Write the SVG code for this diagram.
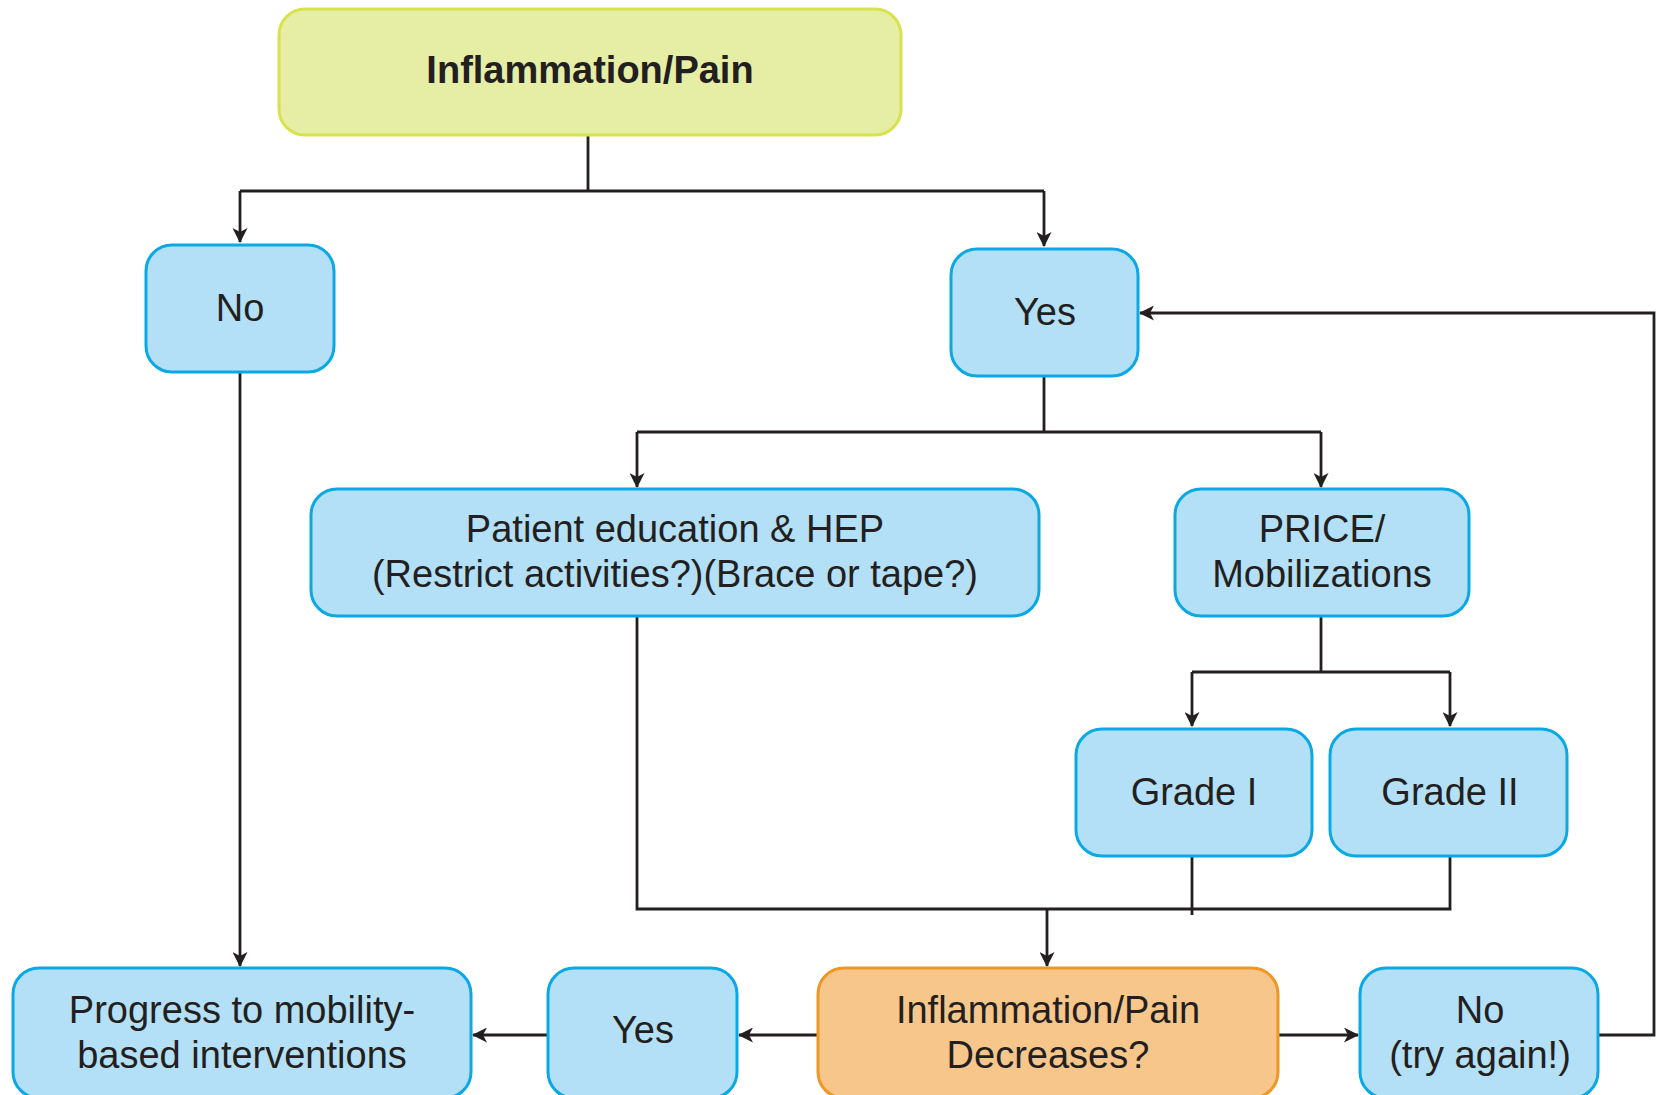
<svg xmlns="http://www.w3.org/2000/svg" width="1657" height="1095" viewBox="0 0 1657 1095">
  <style>
    .box { stroke-width: 3; }
    .blue { fill: #b3e0f6; stroke: #0aa8e4; }
    .yellow { fill: #e6eda4; stroke: #d8e24c; }
    .orange { fill: #f7c68b; stroke: #ef9625; }
    .lbl { font-family: "Liberation Sans", Arial, sans-serif; font-size: 38px; fill: #231f20; text-anchor: middle; }
    .bold { font-weight: bold; font-size: 38px; }
    .wire { fill: none; stroke: #231f20; stroke-width: 2.8; }
  </style>
  <defs>
    <marker id="arr" viewBox="0 0 15 15" refX="14" refY="7.5" markerWidth="15" markerHeight="15" markerUnits="userSpaceOnUse" orient="auto">
      <path d="M0,0 L15,7.5 L0,15 L4,7.5 z" fill="#231f20"/>
    </marker>
  </defs>
  <rect width="1657" height="1095" fill="#ffffff"/>

  <!-- connectors -->
  <g id="connectors">
    <path class="wire" d="M588,135 V191"/>
    <path class="wire" d="M240,191 H1044"/>
    <path class="wire" d="M240,191 V242" marker-end="url(#arr)"/>
    <path class="wire" d="M1044,191 V246" marker-end="url(#arr)"/>
    <path class="wire" d="M240,372 V966" marker-end="url(#arr)"/>
    <path class="wire" d="M1044,376 V432"/>
    <path class="wire" d="M637,432 H1321"/>
    <path class="wire" d="M637,432 V487" marker-end="url(#arr)"/>
    <path class="wire" d="M1321,432 V487" marker-end="url(#arr)"/>
    <path class="wire" d="M1321,616 V672"/>
    <path class="wire" d="M1192,672 H1450"/>
    <path class="wire" d="M1192,672 V726" marker-end="url(#arr)"/>
    <path class="wire" d="M1450,672 V726" marker-end="url(#arr)"/>
    <path class="wire" d="M637,616 V909 H1450 V856"/>
    <path class="wire" d="M1192,856 V915"/>
    <path class="wire" d="M1047,909 V966" marker-end="url(#arr)"/>
    <path class="wire" d="M818,1035 H739" marker-end="url(#arr)"/>
    <path class="wire" d="M547,1035 H473" marker-end="url(#arr)"/>
    <path class="wire" d="M1278,1035 H1358" marker-end="url(#arr)"/>
    <path class="wire" d="M1598,1035 H1654 V313 H1140" marker-end="url(#arr)"/>
  </g>

  <g id="n-inflammation">
    <rect class="box yellow" x="279" y="9" width="622" height="126" rx="26"/>
    <text class="lbl bold" x="590" y="83">Inflammation/Pain</text>
  </g>
  <g id="n-no">
    <rect class="box blue" x="146" y="245" width="188" height="127" rx="26"/>
    <text class="lbl" x="240" y="321">No</text>
  </g>
  <g id="n-yes">
    <rect class="box blue" x="951" y="249" width="187" height="127" rx="26"/>
    <text class="lbl" x="1045" y="325">Yes</text>
  </g>
  <g id="n-education">
    <rect class="box blue" x="311" y="489" width="728" height="127" rx="26"/>
    <text class="lbl" x="675" y="542">Patient education &amp; HEP</text>
    <text class="lbl" x="675" y="587">(Restrict activities?)(Brace or tape?)</text>
  </g>
  <g id="n-price">
    <rect class="box blue" x="1175" y="489" width="294" height="127" rx="26"/>
    <text class="lbl" x="1322" y="542">PRICE/</text>
    <text class="lbl" x="1322" y="587">Mobilizations</text>
  </g>
  <g id="n-grade1">
    <rect class="box blue" x="1076" y="729" width="236" height="127" rx="26"/>
    <text class="lbl" x="1194" y="805">Grade I</text>
  </g>
  <g id="n-grade2">
    <rect class="box blue" x="1330" y="729" width="237" height="127" rx="26"/>
    <text class="lbl" x="1450" y="805">Grade II</text>
  </g>
  <g id="n-progress">
    <rect class="box blue" x="13" y="968" width="458" height="130" rx="26"/>
    <text class="lbl" x="242" y="1023">Progress to mobility-</text>
    <text class="lbl" x="242" y="1068">based interventions</text>
  </g>
  <g id="n-yes2">
    <rect class="box blue" x="548" y="968" width="189" height="130" rx="26"/>
    <text class="lbl" x="643" y="1043">Yes</text>
  </g>
  <g id="n-decreases">
    <rect class="box orange" x="818" y="968" width="460" height="130" rx="26"/>
    <text class="lbl" x="1048" y="1023">Inflammation/Pain</text>
    <text class="lbl" x="1048" y="1068">Decreases?</text>
  </g>
  <g id="n-tryagain">
    <rect class="box blue" x="1360" y="968" width="238" height="130" rx="26"/>
    <text class="lbl" x="1480" y="1023">No</text>
    <text class="lbl" x="1480" y="1068">(try again!)</text>
  </g>
</svg>
